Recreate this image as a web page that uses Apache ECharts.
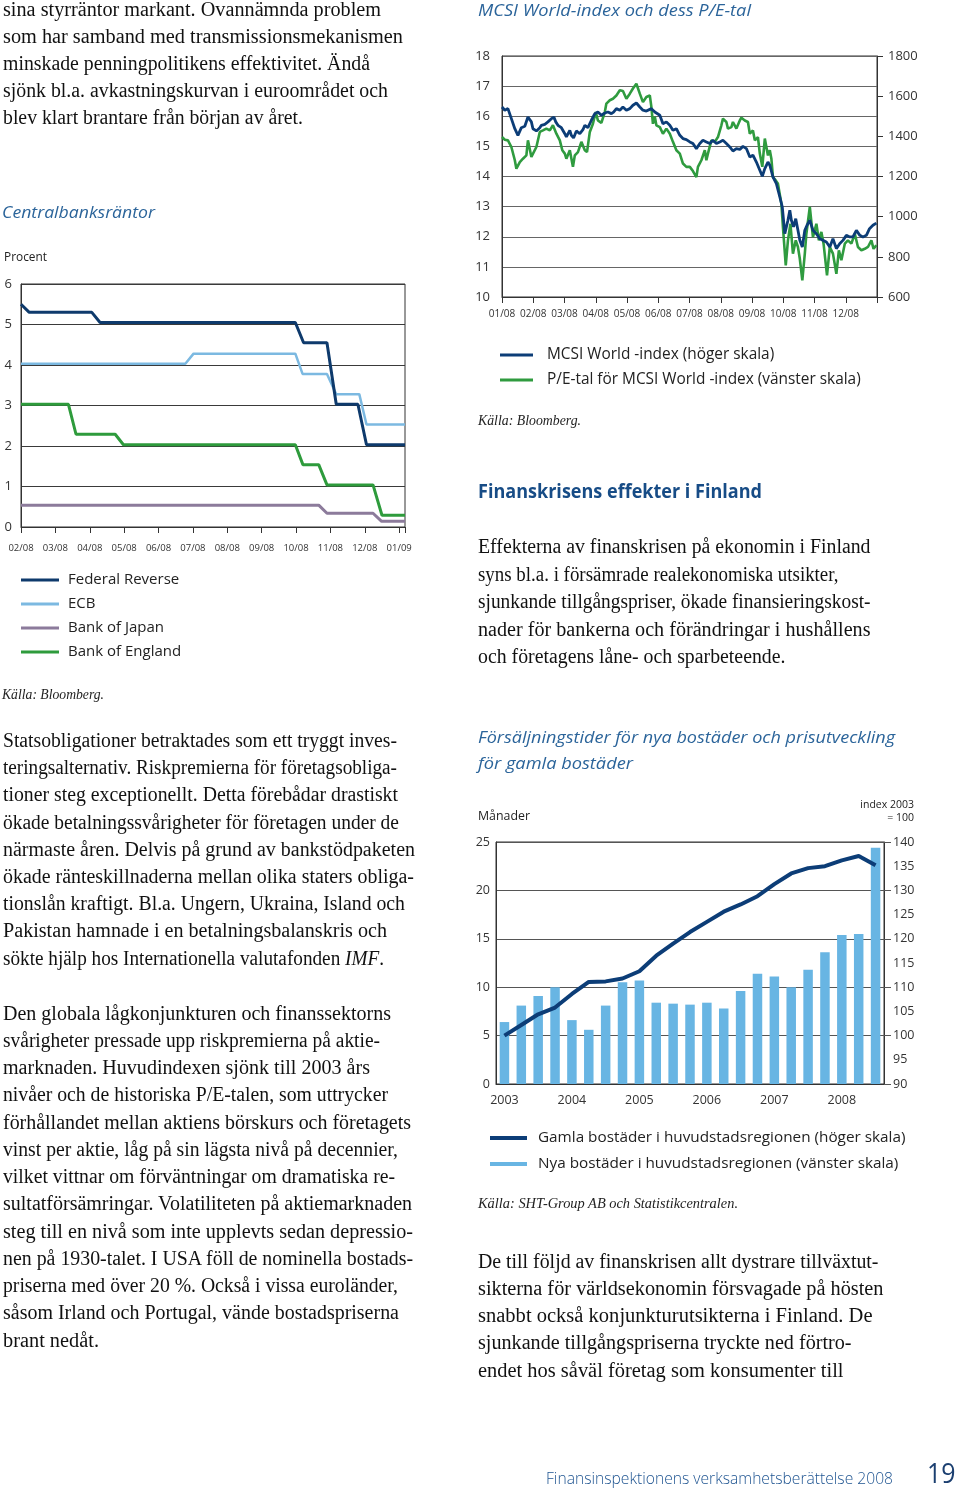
<!DOCTYPE html>
<html><head><meta charset="utf-8">
<script src="https://cdn.jsdelivr.net/npm/echarts@6/dist/echarts.min.js"></script>
<style>
html,body{margin:0;padding:0;background:#fff;}
#page{position:relative;width:960px;height:1492px;overflow:hidden;background:#fff;}
#chart{position:absolute;left:0;top:0;width:960px;height:1492px;z-index:1;}
.t{position:absolute;white-space:nowrap;z-index:2;transform-origin:0 50%;}
</style></head>
<body><div id="page"><div id="chart"></div></div>
<script>
// ---------- DATA ----------
const rateMonths = ['02/08','03/08','04/08','05/08','06/08','07/08','08/08','09/08','10/08','11/08','12/08','01/09'];
const fedRate = [[0,5.5],[0.24,5.3],[2.06,5.3],[2.3,5.05],[7.98,5.05],[8.22,4.55],[8.9,4.55],[9.17,3.03],[9.8,3.03],[10.05,2.03],[11.17,2.03]];
const ecbRate = [[0,4.03],[4.78,4.03],[5.02,4.28],[7.98,4.28],[8.19,3.78],[8.9,3.78],[9.17,3.28],[9.84,3.28],[10.05,2.53],[11.17,2.53]];
const bojRate = [[0,0.54],[8.66,0.54],[8.9,0.34],[10.24,0.34],[10.49,0.14],[11.17,0.14]];
const boeRate = [[0,3.03],[1.38,3.03],[1.6,2.29],[2.74,2.29],[2.98,2.03],[7.98,2.03],[8.2,1.54],[8.66,1.54],[8.9,1.04],[10.24,1.04],[10.5,0.29],[11.17,0.29]];

const mcsiMonths = ['01/08','02/08','03/08','04/08','05/08','06/08','07/08','08/08','09/08','10/08','11/08','12/08'];
const mcsiIndex = [[0,1546],[0.09,1530],[0.19,1538],[0.25,1546],[0.30,1488],[0.41,1438],[0.51,1405],[0.57,1413],[0.62,1443],[0.73,1450],[0.83,1496],[0.89,1500],[0.94,1472],[0.99,1438],[1.10,1427],[1.21,1443],[1.26,1455],[1.37,1460],[1.47,1472],[1.58,1488],[1.66,1496],[1.72,1472],[1.79,1455],[1.90,1443],[2.01,1413],[2.06,1397],[2.17,1430],[2.22,1405],[2.29,1392],[2.38,1427],[2.49,1413],[2.59,1433],[2.65,1455],[2.75,1443],[2.86,1480],[2.97,1513],[3.07,1521],[3.18,1505],[3.29,1516],[3.39,1521],[3.50,1513],[3.57,1521],[3.66,1538],[3.77,1530],[3.87,1546],[3.98,1530],[4.09,1538],[4.19,1555],[4.30,1566],[4.41,1546],[4.51,1530],[4.62,1526],[4.78,1538],[4.89,1521],[5.05,1505],[5.15,1463],[5.26,1472],[5.37,1455],[5.47,1430],[5.58,1438],[5.69,1405],[5.79,1389],[5.90,1384],[6.01,1372],[6.11,1364],[6.22,1339],[6.33,1364],[6.43,1380],[6.49,1389],[6.54,1372],[6.65,1364],[6.75,1380],[6.86,1364],[6.97,1372],[7.07,1380],[7.18,1364],[7.29,1347],[7.39,1327],[7.50,1339],[7.61,1335],[7.71,1350],[7.82,1339],[7.93,1297],[8.03,1306],[8.14,1272],[8.25,1231],[8.33,1201],[8.41,1239],[8.51,1272],[8.57,1256],[8.67,1198],[8.78,1164],[8.89,1098],[8.97,1048],[9.05,915],[9.15,982],[9.21,1032],[9.26,982],[9.33,949],[9.40,990],[9.47,932],[9.53,882],[9.61,849],[9.69,932],[9.76,957],[9.85,982],[9.95,932],[10.06,915],[10.17,890],[10.27,882],[10.38,874],[10.49,849],[10.59,890],[10.70,841],[10.81,866],[10.91,882],[11.02,907],[11.13,899],[11.23,899],[11.34,932],[11.45,907],[11.55,899],[11.66,907],[11.76,940],[11.87,957],[11.98,968]];
const peRatio = [[0,15.31],[0.09,15.22],[0.19,15.20],[0.25,15.26],[0.30,14.98],[0.41,14.54],[0.46,14.26],[0.51,14.20],[0.57,14.48],[0.67,14.59],[0.78,14.70],[0.83,15.20],[0.89,15.15],[0.94,14.65],[0.99,14.59],[1.10,14.98],[1.21,15.48],[1.31,15.53],[1.42,15.59],[1.53,15.53],[1.63,15.70],[1.74,15.42],[1.85,15.20],[1.93,14.87],[2.01,14.76],[2.06,14.59],[2.17,14.87],[2.27,14.32],[2.33,14.70],[2.43,14.81],[2.54,15.15],[2.65,14.87],[2.72,14.81],[2.81,15.48],[2.91,15.75],[3.00,16.14],[3.07,15.86],[3.18,15.78],[3.29,16.14],[3.34,16.42],[3.45,16.53],[3.55,16.58],[3.66,16.69],[3.77,16.86],[3.87,16.84],[3.98,16.58],[4.09,16.75],[4.19,16.92],[4.30,17.08],[4.35,17.10],[4.41,16.75],[4.51,16.47],[4.62,16.64],[4.73,16.69],[4.78,16.31],[4.83,15.75],[4.89,15.98],[4.94,15.70],[5.05,15.64],[5.15,15.42],[5.26,15.59],[5.37,15.42],[5.47,15.15],[5.58,14.87],[5.69,14.76],[5.79,14.43],[5.90,14.32],[6.01,14.32],[6.11,14.18],[6.22,13.98],[6.27,14.32],[6.38,14.54],[6.49,14.87],[6.54,14.54],[6.59,14.76],[6.70,15.20],[6.81,15.15],[6.91,15.31],[7.02,15.70],[7.07,15.92],[7.18,15.81],[7.23,15.59],[7.34,15.64],[7.39,15.81],[7.50,15.59],[7.61,15.86],[7.66,15.95],[7.77,15.86],[7.87,15.81],[7.93,15.42],[8.03,15.53],[8.09,15.20],[8.19,15.31],[8.25,14.76],[8.33,14.32],[8.41,15.26],[8.51,14.70],[8.57,14.87],[8.62,14.59],[8.67,13.98],[8.76,13.87],[8.83,13.76],[8.94,13.10],[8.99,12.32],[9.08,11.05],[9.15,11.88],[9.23,12.43],[9.31,11.44],[9.40,11.88],[9.47,11.66],[9.53,11.27],[9.61,10.55],[9.69,11.44],[9.74,12.10],[9.85,12.99],[9.95,11.99],[10.06,12.43],[10.14,11.88],[10.22,12.16],[10.29,11.77],[10.40,10.72],[10.49,11.66],[10.59,11.44],[10.70,10.77],[10.78,11.55],[10.86,11.22],[10.97,11.77],[11.07,11.88],[11.18,11.77],[11.29,12.10],[11.39,11.66],[11.50,11.55],[11.61,11.60],[11.71,11.66],[11.82,11.88],[11.89,11.60],[11.98,11.72]];

const quarters = ['2003 K1','2003 K2','2003 K3','2003 K4','2004 K1','2004 K2','2004 K3','2004 K4','2005 K1','2005 K2','2005 K3','2005 K4','2006 K1','2006 K2','2006 K3','2006 K4','2007 K1','2007 K2','2007 K3','2007 K4','2008 K1','2008 K2','2008 K3'];
const newHomesMonths = [6.4,8.1,9.1,10.0,6.6,5.6,8.1,10.5,10.7,8.4,8.3,8.2,8.4,7.8,9.6,11.4,11.1,10.0,11.8,13.6,15.4,15.5,24.4];
const oldHomesIndex = [100,102.2,104.4,105.8,108.6,111.1,111.2,111.8,113.3,116.5,119.0,121.4,123.5,125.6,127.1,128.8,131.3,133.5,134.6,135.0,136.2,137.1,135.2];

// ---------- CHART ----------
const FONT = '"Open Sans","Noto Sans",sans-serif';
const C_FED='#0e3a6c', C_ECB='#7cb9e1', C_BOJ='#8c7b9b', C_BOE='#2e9b3c';
const C_NAVY='#0c3d77', C_GREEN='#2f9b3f', C_BAR='#68b5e3';
const isInt = v => Math.abs(v - Math.round(v)) < 1e-6;
const plain = v => String(v);
const lbl = (o) => Object.assign({fontFamily:FONT,color:'#333',formatter:plain}, o);
const axLine = {show:true, lineStyle:{color:'#333',width:1}};

const chart = echarts.init(document.getElementById('chart'), null, {renderer:'canvas'});
chart.setOption({
  animation:false,
  textStyle:{fontFamily:FONT},
  grid:[
    {left:21, top:284, width:384, height:243, show:true, borderColor:'#333', borderWidth:1, outerBoundsMode:'none'},
    {left:502, top:56, width:375, height:241, show:true, borderColor:'#333', borderWidth:1, outerBoundsMode:'none'},
    {left:496, top:842, width:388, height:242, show:true, borderColor:'#333', borderWidth:1, outerBoundsMode:'none'}
  ],
  legend:[
    {data:['Federal Reverse','ECB','Bank of Japan','Bank of England'], orient:'vertical', left:21, top:572, padding:0,
     itemWidth:38, itemHeight:3, itemGap:8, icon:'rect', selectedMode:false,
     textStyle:{fontFamily:FONT,fontSize:15,color:'#222',lineHeight:16,padding:[0,0,0,4]}},
    {data:['MCSI World -index (höger skala)','P/E-tal för MCSI World -index (vänster skala)'], orient:'vertical', left:500, top:347, padding:0,
     itemWidth:33, itemHeight:3, itemGap:9, icon:'rect', selectedMode:false,
     textStyle:{fontFamily:FONT,fontSize:15.4,color:'#222',lineHeight:16,padding:[0,0,0,9]}},
    {data:['Gamla bostäder i huvudstadsregionen (höger skala)','Nya bostäder i huvudstadsregionen (vänster skala)'], orient:'vertical', left:490, top:1130, padding:0,
     itemWidth:37, itemHeight:4, itemGap:10, icon:'rect', selectedMode:false,
     textStyle:{fontFamily:FONT,fontSize:15.3,color:'#222',lineHeight:16,padding:[0,0,0,6]}}
  ],
  xAxis:[
    {type:'value', gridIndex:0, min:0, max:11.17, interval:1, axisLine:axLine,
     axisTick:{show:true,length:6,lineStyle:{color:'#333'}}, splitLine:{show:false},
     axisLabel:lbl({fontSize:9.5, margin:16, formatter:v=> isInt(v) ? (rateMonths[Math.round(v)]||'') : ''})},
    {type:'value', gridIndex:1, min:0, max:12, interval:1, axisLine:axLine,
     axisTick:{show:true,length:6,lineStyle:{color:'#333'}}, splitLine:{show:false},
     axisLabel:lbl({fontSize:10, margin:12, formatter:v=> isInt(v) ? (mcsiMonths[Math.round(v)]||'') : ''})},
    {type:'category', gridIndex:2, data:quarters, boundaryGap:true, axisLine:axLine, axisTick:{show:false},
     axisLabel:lbl({fontSize:12.5, margin:10, interval:0, formatter:v=> v.endsWith('K1') ? v.slice(0,4) : ''})}
  ],
  yAxis:[
    {type:'value', gridIndex:0, min:0, max:6, interval:1, axisLine:axLine, axisTick:{show:false},
     splitLine:{show:true,lineStyle:{color:'#3a3a3a',width:1}}, axisLabel:lbl({fontSize:13, margin:9})},
    {type:'value', gridIndex:1, min:10, max:18, interval:1, axisLine:axLine, axisTick:{show:false},
     splitLine:{show:true,lineStyle:{color:'#666',width:1}}, axisLabel:lbl({fontSize:13, margin:12})},
    {type:'value', gridIndex:1, position:'right', min:600, max:1800, interval:200, axisLine:axLine,
     axisTick:{show:true,length:6,lineStyle:{color:'#333'}}, splitLine:{show:false}, axisLabel:lbl({fontSize:13, margin:11})},
    {type:'value', gridIndex:2, min:0, max:25, interval:5, axisLine:axLine, axisTick:{show:false},
     splitLine:{show:true,lineStyle:{color:'#555',width:1}}, axisLabel:lbl({fontSize:12.5, margin:6})},
    {type:'value', gridIndex:2, position:'right', min:90, max:140, interval:5, axisLine:axLine, axisTick:{show:false},
     splitLine:{show:false}, axisLabel:lbl({fontSize:12.5, margin:9})},
    {type:'value', gridIndex:2, position:'right', min:90, max:140, interval:10, axisLine:{show:false},
     axisTick:{show:true,length:7,lineStyle:{color:'#555'}}, splitLine:{show:false}, axisLabel:{show:false}}
  ],
  series:[
    {name:'ECB', type:'line', xAxisIndex:0, yAxisIndex:0, data:ecbRate, symbol:'none', itemStyle:{color:C_ECB}, lineStyle:{color:C_ECB,width:2.5}},
    {name:'Federal Reverse', type:'line', xAxisIndex:0, yAxisIndex:0, data:fedRate, symbol:'none', itemStyle:{color:C_FED}, lineStyle:{color:C_FED,width:3}},
    {name:'Bank of England', type:'line', xAxisIndex:0, yAxisIndex:0, data:boeRate, symbol:'none', itemStyle:{color:C_BOE}, lineStyle:{color:C_BOE,width:3}},
    {name:'Bank of Japan', type:'line', xAxisIndex:0, yAxisIndex:0, data:bojRate, symbol:'none', itemStyle:{color:C_BOJ}, lineStyle:{color:C_BOJ,width:3}},
    {name:'P/E-tal för MCSI World -index (vänster skala)', type:'line', xAxisIndex:1, yAxisIndex:1, data:peRatio, symbol:'none', itemStyle:{color:C_GREEN}, lineStyle:{color:C_GREEN,width:2.6}},
    {name:'MCSI World -index (höger skala)', type:'line', xAxisIndex:1, yAxisIndex:2, data:mcsiIndex, symbol:'none', itemStyle:{color:C_NAVY}, lineStyle:{color:C_NAVY,width:2.8}},
    {name:'Nya bostäder i huvudstadsregionen (vänster skala)', type:'bar', xAxisIndex:2, yAxisIndex:3, data:newHomesMonths, barWidth:9.5, itemStyle:{color:C_BAR}},
    {name:'Gamla bostäder i huvudstadsregionen (höger skala)', type:'line', xAxisIndex:2, yAxisIndex:4, data:oldHomesIndex, symbol:'none', itemStyle:{color:C_NAVY}, lineStyle:{color:C_NAVY,width:4}}
  ]
});

// ---------- TEXT ----------
const SERIF='"Liberation Serif","DejaVu Serif",serif';
const page=document.getElementById('page');
function put(html, o){
  const d=document.createElement('div'); d.className='t';
  d.style.fontSize=o.size+'px'; d.style.lineHeight=o.size+'px';
  d.style.fontFamily=o.family||SERIF; d.style.fontWeight=o.weight||400;
  d.style.fontStyle=o.italic?'italic':'normal'; d.style.color=o.color||'#111';
  d.innerHTML=html;
  const m=document.createElement('span'); m.style.cssText='display:inline-block;width:0;height:0;vertical-align:baseline;';
  d.appendChild(m); page.appendChild(d);
  d.style.top=(o.base - m.offsetTop)+'px';
  const w=d.getBoundingClientRect().width;
  if(o.right!==undefined){ d.style.left=(o.right-w)+'px'; }
  else {
    d.style.left=o.x+'px';
    if(o.width){ d.style.transform='scaleX('+(o.width/w).toFixed(4)+')'; }
  }
}
function para(lines, widths, x, base, step, size){
  lines.forEach((l,i)=>put(l,{x:x,base:base+i*step,size:size,width:widths[i]}));
}
para(['sina styrräntor markant. Ovannämnda problem','som har samband med transmissionsmekanismen','minskade penningpolitikens effektivitet. Ändå','sjönk bl.a. avkastningskurvan i euroområdet och','blev klart brantare från början av året.'],
     [378,400,367,385,300], 2.5, 16, 27, 20);
para(['Statsobligationer betraktades som ett tryggt inves-','teringsalternativ. Riskpremierna för företagsobliga-','tioner steg exceptionellt. Detta förebådar drastiskt','ökade betalningssvårigheter för företagen under de','närmaste åren. Delvis på grund av bankstödpaketen','ökade ränteskillnaderna mellan olika staters obliga-','tionslån kraftigt. Bl.a. Ungern, Ukraina, Island och','Pakistan hamnade i en betalningsbalanskris och','sökte hjälp hos Internationella valutafonden <i>IMF</i>.'],
     [394,394,395,396,412,411,402,384,381], 2.5, 747, 27.2, 20);
para(['Den globala lågkonjunkturen och finanssektorns','svårigheter pressade upp riskpremierna på aktie-','marknaden. Huvudindexen sjönk till 2003 års','nivåer och de historiska P/E-talen, som uttrycker','förhållandet mellan aktiens börskurs och företagets','vinst per aktie, låg på sin lägsta nivå på decennier,','vilket vittnar om förväntningar om dramatiska re-','sultatförsämringar. Volatiliteten på aktiemarknaden','steg till en nivå som inte upplevts sedan depressio-','nen på 1930-talet. I USA föll de nominella bostads-','priserna med över 20 %. Också i vissa euroländer,','såsom Irland och Portugal, vände bostadspriserna','brant nedåt.'],
     [388,377,367,385,408,395,392,409,410,410,395,396,96], 2.5, 1019.5, 27.25, 20);
para(['Effekterna av finanskrisen på ekonomin i Finland','syns bl.a. i försämrade realekonomiska utsikter,','sjunkande tillgångspriser, ökade finansieringskost-','nader för bankerna och förändringar i hushållens','och företagens låne- och sparbeteende.'],
     [392.5,360.5,392.5,392.5,307.5], 477.5, 553.3, 27.4, 20);
para(['De till följd av finanskrisen allt dystrare tillväxtut-','sikterna för världsekonomin försvagade på hösten','snabbt också konjunkturutsikterna i Finland. De','sjunkande tillgångspriserna tryckte ned förtro-','endet hos såväl företag som konsumenter till'],
     [400.5,405.5,394.5,373.5,365.5], 477.5, 1267.8, 27.2, 20);

const TITLE='#2b649a';
put('Centralbanksräntor',{x:2,base:218,size:17,family:FONT,italic:true,color:TITLE,width:153});
put('Procent',{x:4,base:261,size:12.5,family:FONT,color:'#222',width:43});
put('Källa: Bloomberg.',{x:2,base:699,size:14,italic:true,color:'#222',width:102});
put('MCSI World-index och dess P/E-tal',{x:477.5,base:16,size:17,family:FONT,italic:true,color:TITLE,width:273});
put('Källa: Bloomberg.',{x:477.5,base:425,size:14,italic:true,color:'#222',width:103});
put('Finanskrisens effekter i Finland',{x:477.5,base:497.7,size:20,family:FONT,weight:700,color:'#174c86',width:284});
put('Försäljningstider för nya bostäder och prisutveckling',{x:477.5,base:743.3,size:17,family:FONT,italic:true,color:TITLE,width:417});
put('för gamla bostäder',{x:477.5,base:769.3,size:17,family:FONT,italic:true,color:TITLE,width:155});
put('Månader',{x:478,base:820,size:13,family:FONT,color:'#222',width:52});
put('index 2003',{right:914,base:808.3,size:10.5,family:FONT,color:'#222'});
put('= 100',{right:914,base:820.7,size:10.5,family:FONT,color:'#222'});
put('Källa: SHT-Group AB och Statistikcentralen.',{x:477.5,base:1208.3,size:14,italic:true,color:'#222',width:260});
put('Finansinspektionens verksamhetsberättelse 2008',{x:546,base:1484,size:17,family:FONT,weight:300,color:'#1d5390',width:347});
put('19',{x:926.5,base:1483,size:28,family:FONT,color:'#1b3f70',width:28.5});
</script>
</body></html>
